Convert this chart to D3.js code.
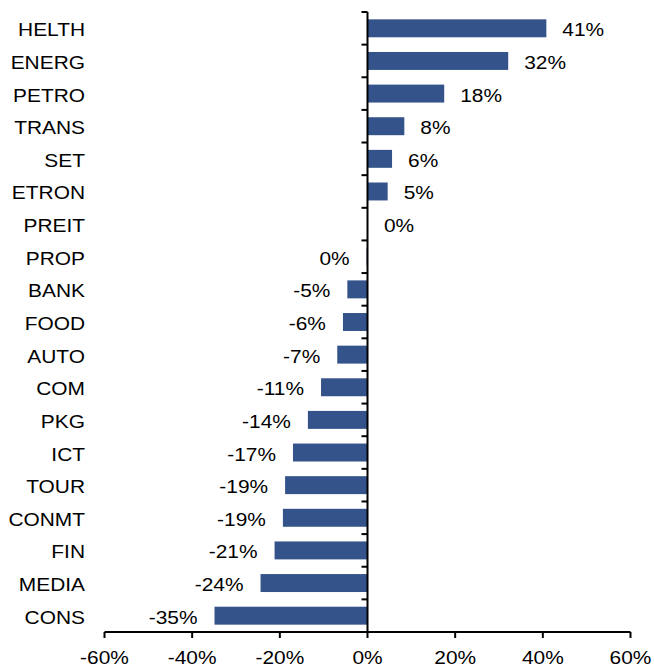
<!DOCTYPE html>
<html>
<head>
<meta charset="utf-8">
<script src="https://cdn.jsdelivr.net/npm/d3@7"></script>
<style>
  body { margin: 0; background: #fff; }
  text { font-family: "Liberation Sans", Arial, sans-serif; fill: #000; }
</style>
</head>
<body>
<div id="chart"></div>
<script>
// Sector returns (%), top to bottom
const sectors = ['HELTH', 'ENERG', 'PETRO', 'TRANS', 'SET', 'ETRON', 'PREIT', 'PROP', 'BANK', 'FOOD',
                 'AUTO', 'COM', 'PKG', 'ICT', 'TOUR', 'CONMT', 'FIN', 'MEDIA', 'CONS'];
const returns = [40.8, 32.1, 17.5, 8.4, 5.6, 4.6, 0.1, -0.2, -4.6, -5.6,
                 -6.9, -10.6, -13.6, -17.0, -18.8, -19.3, -21.2, -24.4, -34.9];
const xTicks = [-60, -40, -20, 0, 20, 40, 60];

const width = 654, height = 667;
const barColor = '#34538a';
const fontSize = 19;
const stretch = 1.1; // text in the original is a bit wider than Arial

const svg = d3.select('#chart').append('svg')
    .attr('width', width)
    .attr('height', height);

const x = d3.scaleLinear().domain([-60, 60]).range([104.5, 630.5]);
const y = d3.scaleBand().domain(sectors).range([12, 632])
    .paddingInner(0.45).paddingOuter(0.225);

const data = sectors.map((s, i) => ({ name: s, value: returns[i] }));

// bars
svg.selectAll('rect.bar')
    .data(data)
    .enter()
    .append('rect')
    .attr('class', 'bar')
    .attr('x', d => x(Math.min(0, d.value)))
    .attr('y', d => y(d.name))
    .attr('width', d => Math.abs(x(d.value) - x(0)))
    .attr('height', y.bandwidth())
    .attr('fill', barColor);

// value labels
const fmt = v => (Math.round(v) === 0 ? 0 : Math.round(v)) + '%';
svg.selectAll('text.val')
    .data(data)
    .enter()
    .append('text')
    .attr('class', 'val')
    .attr('text-anchor', d => d.value < 0 ? 'end' : 'start')
    .attr('transform', d => {
        const tx = d.value < 0 ? x(d.value) - 17 : x(d.value) + 16;
        const ty = y(d.name) + y.bandwidth() / 2 + 8;
        return `translate(${tx},${ty}) scale(${stretch},1)`;
    })
    .style('font-size', fontSize + 'px')
    .text(d => fmt(d.value));

// category labels, right aligned at the left margin
svg.selectAll('text.cat')
    .data(sectors)
    .enter()
    .append('text')
    .attr('class', 'cat')
    .attr('text-anchor', 'end')
    .attr('transform', d => `translate(85,${y(d) + y.bandwidth() / 2 + 8}) scale(${stretch},1)`)
    .style('font-size', fontSize + 'px')
    .text(d => d);

// vertical axis at zero with ticks between categories
const x0 = x(0);
const yTop = y.range()[0], yBot = y.range()[1];
const bounds = d3.range(sectors.length + 1).map(i => yTop + i * y.step());
svg.append('line')
    .attr('x1', x0).attr('x2', x0)
    .attr('y1', yTop).attr('y2', yBot)
    .attr('stroke', '#000').attr('stroke-width', 2);
svg.selectAll('line.ytick')
    .data(bounds)
    .enter()
    .append('line')
    .attr('class', 'ytick')
    .attr('x1', x0 - 6).attr('x2', x0)
    .attr('y1', d => d).attr('y2', d => d)
    .attr('stroke', '#000').attr('stroke-width', 2);

// horizontal axis
const xAxis = svg.append('g').attr('transform', `translate(0,${yBot})`);
xAxis.append('line')
    .attr('x1', x(-60)).attr('x2', x(60))
    .attr('stroke', '#000').attr('stroke-width', 2);
xAxis.selectAll('line.xtick')
    .data(xTicks)
    .enter()
    .append('line')
    .attr('class', 'xtick')
    .attr('x1', d => x(d)).attr('x2', d => x(d))
    .attr('y1', 0).attr('y2', 6)
    .attr('stroke', '#000').attr('stroke-width', 2);
xAxis.selectAll('text')
    .data(xTicks)
    .enter()
    .append('text')
    .attr('text-anchor', 'middle')
    .attr('transform', d => `translate(${x(d)},32) scale(${stretch},1)`)
    .style('font-size', fontSize + 'px')
    .text(d => d + '%');
</script>
</body>
</html>
